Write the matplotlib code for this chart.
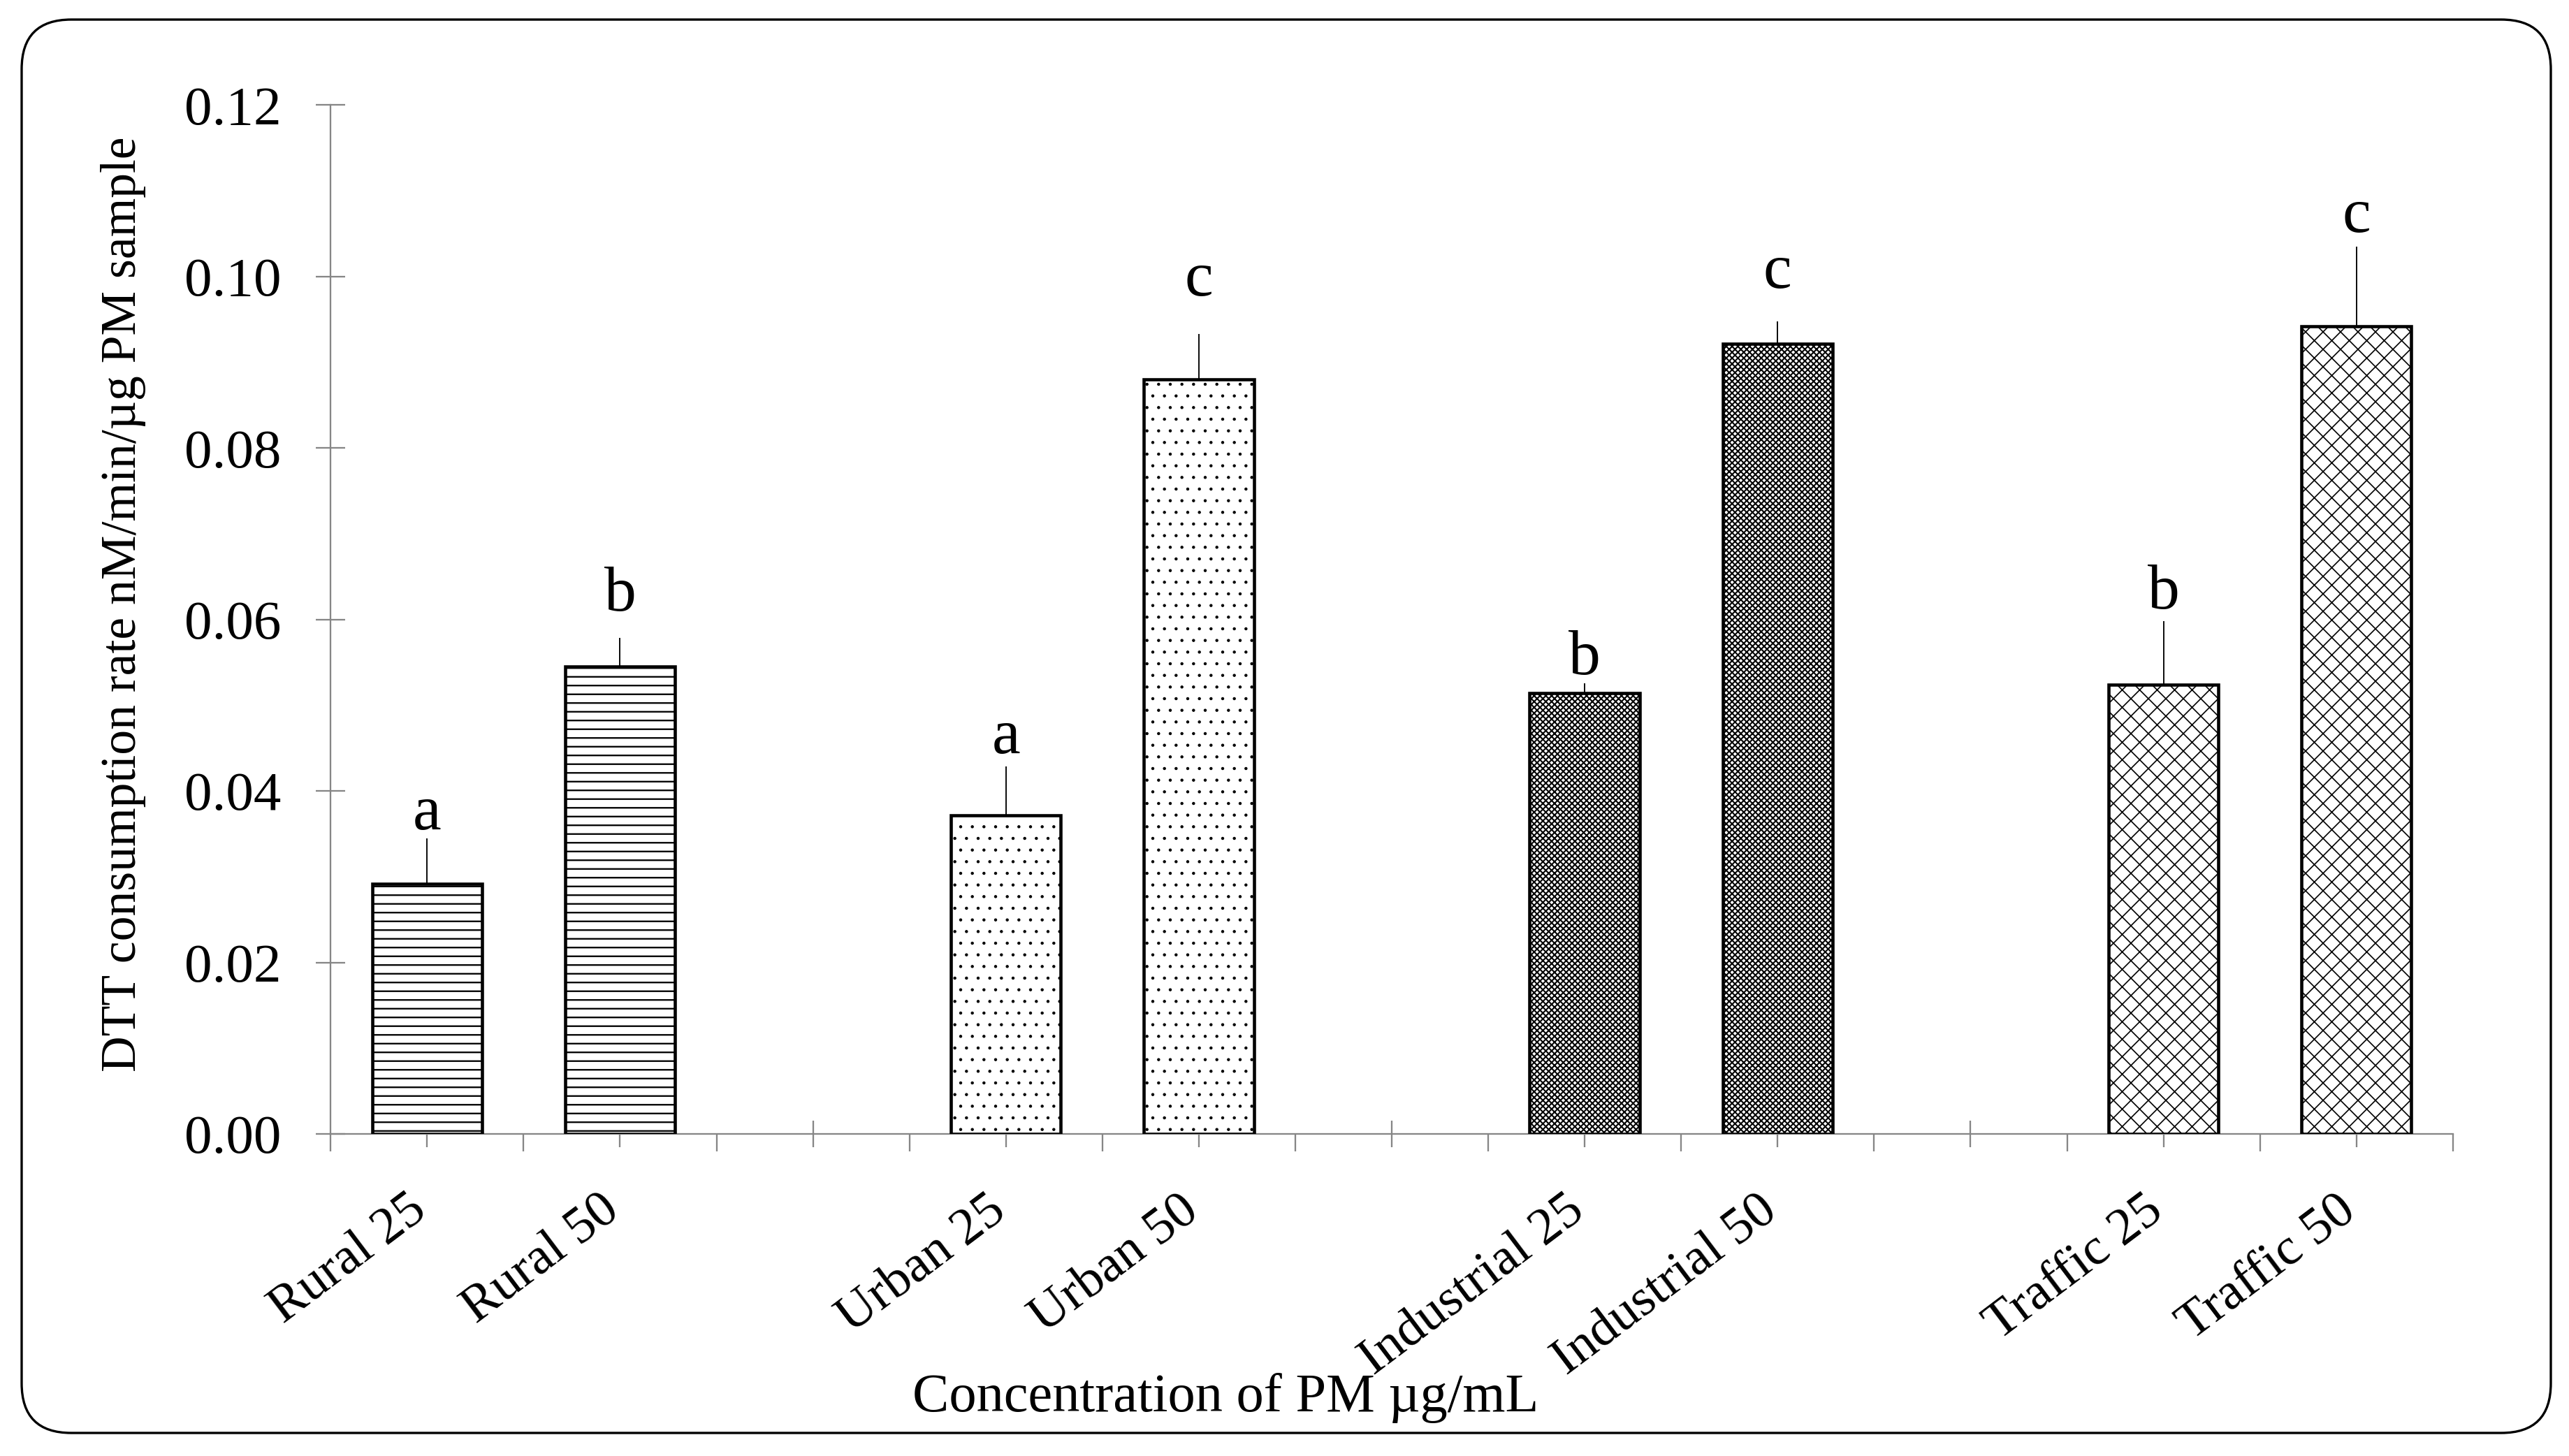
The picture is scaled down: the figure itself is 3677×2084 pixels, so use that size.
import matplotlib
matplotlib.use("Agg")
import matplotlib.pyplot as plt
from matplotlib.patches import FancyBboxPatch
from matplotlib.transforms import ScaledTranslation

# categories with empty spacer slots between the site groups
categories = ['Rural 25', 'Rural 50', '', 'Urban 25', 'Urban 50', '',
              'Industrial 25', 'Industrial 50', '', 'Traffic 25', 'Traffic 50']
bar_slots = [0, 1, 3, 4, 6, 7, 9, 10]
values = [0.0292, 0.0545, 0.0372, 0.0880, 0.0514, 0.0922, 0.0524, 0.0942]
errors = [0.0053, 0.0034, 0.0057, 0.0053, 0.0012, 0.0026, 0.0074, 0.0093]
letters = ['a', 'b', 'a', 'c', 'b', 'c', 'b', 'c']
letter_y = [0.0355, 0.0610, 0.0444, 0.0978, 0.0536, 0.0987, 0.0613, 0.1052]
hatches = ['----', '----', '...', '...', 'x' * 12, 'x' * 12, 'xxxx', 'xxxx']
hatch_widths = [0.55, 0.55, 0.25, 0.25, 0.5, 0.5, 0.4, 0.4]

yticks = [0.00, 0.02, 0.04, 0.06, 0.08, 0.10, 0.12]

plt.rcParams['font.family'] = ['Liberation Serif', 'DejaVu Serif']

axis_grey = '#868686'

fig = plt.figure(figsize=(3677 / 300, 2084 / 300), dpi=300)
ax = fig.add_axes([0.1287, 0.2212, 0.8261, 0.7066])

# hatch fill first (one bar at a time so each gets its own hatch width),
# then the black outline on top
for i in range(len(bar_slots)):
    with plt.rc_context({'hatch.linewidth': hatch_widths[i]}):
        b = ax.bar(bar_slots[i], values[i], width=0.57, color='white',
                   edgecolor='black', hatch=hatches[i], linewidth=0, zorder=2)
    for p in b:
        if hasattr(p, 'set_hatch_linewidth'):
            p.set_hatch_linewidth(hatch_widths[i])
ax.bar(bar_slots, values, width=0.57, fill=False, edgecolor='black',
       linewidth=1.1, zorder=3)
ax.errorbar(bar_slots, values, yerr=[[0] * len(errors), errors], fmt='none',
            ecolor='black', elinewidth=0.45, capsize=0, zorder=3)

for i in range(len(bar_slots)):
    ax.text(bar_slots[i], letter_y[i], letters[i], ha='center', va='baseline',
            fontsize=22)

ax.set_xlim(-0.5, len(categories) - 0.5)
ax.set_ylim(0, 0.12)

ax.set_yticks(yticks)
ax.set_yticklabels(['%.2f' % t for t in yticks], fontsize=19)
ax.tick_params(axis='y', direction='inout', length=10, width=0.55,
               color=axis_grey, pad=12)

ax.set_xticks(range(len(categories)))
ax.set_xticklabels(categories, fontsize=18, rotation=37, ha='right',
                   va='center', rotation_mode='anchor')
ax.set_xticks([i - 0.5 for i in range(len(categories) + 1)], minor=True)
ax.tick_params(axis='x', which='major', direction='inout', length=9,
               width=0.55, color=axis_grey, pad=20)
ax.tick_params(axis='x', which='minor', direction='out', length=6,
               width=0.55, color=axis_grey)
shift = ScaledTranslation(-2 / 72, 0, fig.dpi_scale_trans)
for lab in ax.get_xticklabels():
    lab.set_transform(lab.get_transform() + shift)

for side in ['top', 'right']:
    ax.spines[side].set_visible(False)
for side in ['left', 'bottom']:
    ax.spines[side].set_color(axis_grey)
    ax.spines[side].set_linewidth(0.55)

fig.text(0.048, 0.585, 'DTT consumption rate nM/min/µg PM sample',
         rotation=90, ha='center', va='center', fontsize=17.2)
fig.text(0.477, 0.040, 'Concentration of PM µg/mL', ha='center',
         va='center', fontsize=18.8)

# rounded frame around the whole chart, in pixel units
frame = FancyBboxPatch((31, 2084 - 2051), 3651 - 31, 2051 - 28,
                       boxstyle='round,pad=0,rounding_size=71',
                       transform=None, fill=False, edgecolor='black',
                       linewidth=0.8)
fig.patches.append(frame)

fig.savefig('out.png', dpi=300)
